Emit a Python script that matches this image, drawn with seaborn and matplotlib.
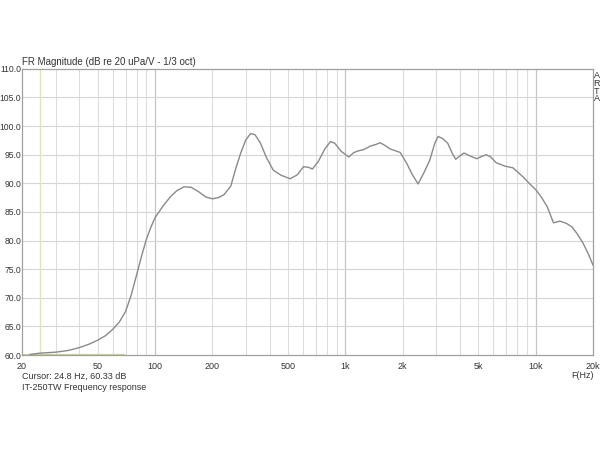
import matplotlib
matplotlib.use("Agg")
import matplotlib.pyplot as plt
import seaborn as sns
import pandas as pd

freq_hz = [22, 24.8, 30, 35, 40, 45, 50, 55, 60, 65, 70, 75, 80, 85, 90, 95,
           100, 110, 120, 130, 142, 155, 170, 185, 200, 215, 230, 250, 265, 282,
           300, 318, 335, 357, 385, 418, 460, 513, 560, 602, 640, 671, 720, 780,
           836, 880, 950, 1042, 1100, 1150, 1250, 1352, 1450, 1520, 1600, 1720,
           1940, 2100, 2250, 2410, 2600, 2780, 2950, 3070, 3250, 3450, 3650, 3800,
           4000, 4200, 4500, 4900, 5200, 5500, 5800, 6200, 6900, 7600, 8600, 9300,
           10000, 10700, 11500, 12400, 13400, 14500, 15500, 16500, 17700, 19000, 20000]
level_db = [60.1, 60.33, 60.5, 60.8, 61.3, 61.9, 62.6, 63.4, 64.5, 65.8, 67.6, 70.5,
            74.0, 77.3, 80.2, 82.3, 84.0, 86.0, 87.6, 88.7, 89.4, 89.3, 88.5, 87.6,
            87.3, 87.5, 88.0, 89.5, 92.5, 95.3, 97.6, 98.7, 98.5, 97.1, 94.5, 92.3,
            91.4, 90.8, 91.5, 92.9, 92.8, 92.5, 93.8, 96.0, 97.3, 97.0, 95.6, 94.6,
            95.3, 95.6, 95.9, 96.5, 96.8, 97.1, 96.7, 96.0, 95.4, 93.5, 91.5, 89.9,
            92.0, 94.1, 97.0, 98.2, 97.8, 97.0, 95.2, 94.2, 94.8, 95.3, 94.8, 94.3,
            94.7, 95.0, 94.6, 93.6, 93.0, 92.7, 91.1, 89.9, 88.9, 87.6, 85.9, 83.1,
            83.4, 83.0, 82.4, 81.2, 79.6, 77.5, 75.7]

x_ticks = [20, 50, 100, 200, 500, 1000, 2000, 5000, 10000, 20000]
x_tick_labels = ["20", "50", "100", "200", "500", "1k", "2k", "5k", "10k", "20k"]
y_ticks = [60, 65, 70, 75, 80, 85, 90, 95, 100, 105, 110]
y_tick_labels = ["60.0", "65.0", "70.0", "75.0", "80.0", "85.0", "90.0",
                 "95.0", "100.0", "105.0", "110.0"]
minor_grid = [30, 40, 50, 60, 70, 80, 90, 200, 300, 400, 500, 600, 700, 800, 900,
              2000, 3000, 4000, 5000, 6000, 7000, 8000, 9000]
major_grid = [100, 1000, 10000]
cursor_hz = 24.8
marker_end_hz = 68.6

title = "FR Magnitude (dB re 20 uPa/V - 1/3 oct)"
cursor_text = "Cursor: 24.8 Hz, 60.33 dB"
name_text = "IT-250TW Frequency response"

sns.set_theme(style="white")
plt.rcParams['font.family'] = ['Liberation Sans', 'DejaVu Sans']

fig = plt.figure(figsize=(6, 4.5), dpi=100)
ax = fig.add_axes([22 / 600, 0.211, 571 / 600, 0.636])

df = pd.DataFrame({"f": freq_hz, "db": level_db})

for g in minor_grid:
    ax.axvline(g, color="#dcdce4", lw=0.8, zorder=0)
for g in major_grid:
    ax.axvline(g, color="#c4c4cc", lw=0.9, zorder=0)
for yv in y_ticks[1:-1]:
    ax.axhline(yv, color="#d6d6d6", lw=0.8, zorder=0)
ax.axvline(cursor_hz, color="#e6e6a8", lw=1.0, zorder=1)
ax.plot([20, marker_end_hz], [60.05, 60.05], color="#c8d890", lw=1.6, zorder=1)

sns.lineplot(data=df, x="f", y="db", ax=ax, color="#8a8a8a", lw=1.0, zorder=3)

ax.set_xscale("log")
ax.set_xlim(20, 20000)
ax.set_ylim(60, 110)
ax.set_xticks(x_ticks)
ax.set_xticklabels(x_tick_labels)
ax.minorticks_off()
ax.set_yticks(y_ticks)
ax.set_yticklabels(y_tick_labels)
ax.tick_params(axis="y", length=0, labelsize=6.2, colors="#333333", pad=0.5)
ax.tick_params(axis="x", length=0, labelsize=6.5, colors="#333333", pad=5)
ax.set_xlabel("")
ax.set_ylabel("")
for s in ax.spines.values():
    s.set_color("#a0a0a0")
    s.set_linewidth(0.9)

fig.text(22 / 600, 1 - 62 / 450, title, fontsize=7, color="#333333", va="center", ha="left")
fig.text(22 / 600, 1 - 376 / 450, cursor_text, fontsize=6.5, color="#333333", va="center", ha="left")
fig.text(22 / 600, 1 - 387 / 450, name_text, fontsize=6.5, color="#333333", va="center", ha="left")
fig.text(583 / 600, 1 - 376 / 450, "F(Hz)", fontsize=6.5, color="#333333", va="center", ha="center")
for i, ch in enumerate("ARTA"):
    fig.text(597 / 600, 1 - (76 + i * 7.5) / 450, ch, fontsize=6.5, color="#333333",
             va="center", ha="center")

fig.savefig("out.png", dpi=100, facecolor="white")
